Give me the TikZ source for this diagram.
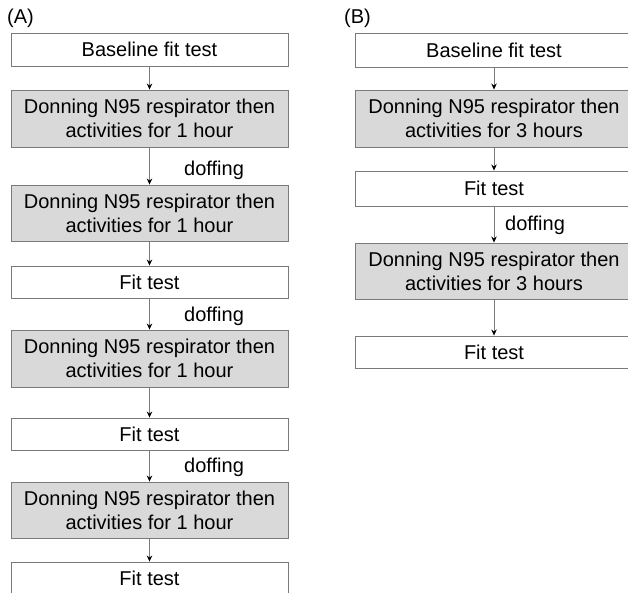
\documentclass[tikz,border=0pt]{standalone}
\usepackage{fontspec}
\setmainfont{Liberation Sans}
\usetikzlibrary{arrows.meta}

\definecolor{boxgray}{HTML}{D9D9D9}
\definecolor{linegray}{HTML}{7A7A7A}

\begin{document}
\begin{tikzpicture}[x=1pt, y=-1pt,
    font=\fontsize{20}{24}\selectfont,
    plainbox/.style={rectangle, draw=linegray, line width=0.9pt, fill=white, minimum width=277pt, inner sep=0pt, align=center},
    greybox/.style={plainbox, fill=boxgray},
    flow/.style={draw=linegray, line width=0.8pt, -{Stealth[length=6pt, width=5.5pt, black]}}]
    \clip (0, 0) rectangle (628, 593);

    % panel labels
    \node[anchor=west, inner sep=0pt] (labA) at (7, 18) {(A)};
    \node[anchor=west, inner sep=0pt] (labB) at (344, 18) {(B)};

    % column (A)
    \node[plainbox, minimum height=33pt] (a1) at (149.5, 49.5) {Baseline fit test};
    \node[greybox, minimum height=57pt] (a2) at (149.5, 118.5) {Donning N95 respirator then\\activities for 1 hour};
    \node[greybox, minimum height=56pt] (a3) at (149.5, 213) {Donning N95 respirator then\\activities for 1 hour};
    \node[plainbox, minimum height=32pt] (a4) at (149.5, 282) {Fit test};
    \node[greybox, minimum height=57pt] (a5) at (149.5, 358.5) {Donning N95 respirator then\\activities for 1 hour};
    \node[plainbox, minimum height=32pt] (a6) at (149.5, 434) {Fit test};
    \node[greybox, minimum height=56pt] (a7) at (149.5, 510) {Donning N95 respirator then\\activities for 1 hour};
    \node[plainbox, minimum height=32pt] (a8) at (149.5, 578) {Fit test};

    \node[anchor=west, inner sep=0pt] (da1) at (184, 170) {doffing};
    \node[anchor=west, inner sep=0pt] (da2) at (184, 316) {doffing};
    \node[anchor=west, inner sep=0pt] (da3) at (184, 467) {doffing};

    \draw[flow] (a1) -- (a2);
    \draw[flow] (a2) -- (a3);
    \draw[flow] (a3) -- (a4);
    \draw[flow] (a4) -- (a5);
    \draw[flow] (a5) -- (a6);
    \draw[flow] (a6) -- (a7);
    \draw[flow] (a7) -- (a8);

    % column (B)
    \node[plainbox, minimum height=34pt] (b1) at (494, 50) {Baseline fit test};
    \node[greybox, minimum height=57pt] (b2) at (494, 118.5) {Donning N95 respirator then\\activities for 3 hours};
    \node[plainbox, minimum height=35pt] (b3) at (494, 188.5) {Fit test};
    \node[greybox, minimum height=56pt] (b4) at (494, 271) {Donning N95 respirator then\\activities for 3 hours};
    \node[plainbox, minimum height=32pt] (b5) at (494, 352) {Fit test};

    \node[anchor=west, inner sep=0pt] (db1) at (505, 225) {doffing};

    \draw[flow] (b1) -- (b2);
    \draw[flow] (b2) -- (b3);
    \draw[flow] (b3) -- (b4);
    \draw[flow] (b4) -- (b5);
\end{tikzpicture}
\end{document}
